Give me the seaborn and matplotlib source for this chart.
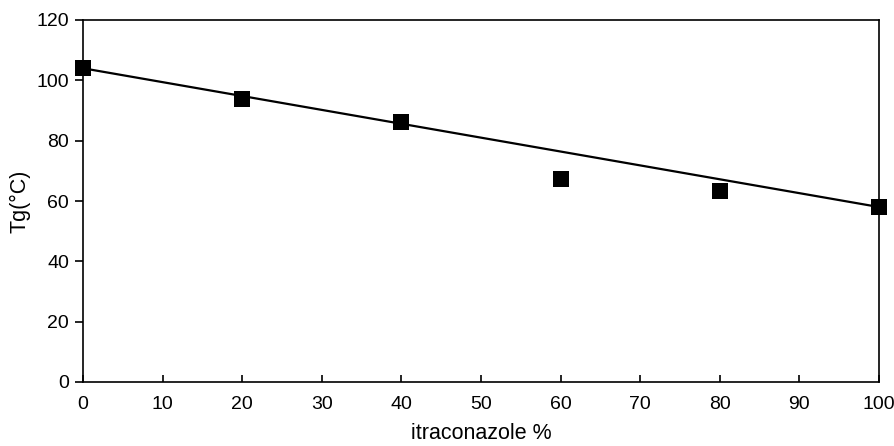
import matplotlib
matplotlib.use("Agg")
import matplotlib.pyplot as plt
import seaborn as sns
import pandas as pd

itraconazole_pct = [0, 20, 40, 60, 80, 100]
tg_values = [104.1, 93.9, 86.2, 67.4, 63.2, 58.1]
line_x = [0, 100]
line_y = [104.0, 58.0]

sns.set_theme(style="white")
plt.rcParams['font.family'] = ['Liberation Sans', 'DejaVu Sans']

fig = plt.figure(figsize=(8.94, 4.46), dpi=100)
ax = fig.add_axes([83/894, 1-382/446, (879-83)/894, (382-20)/446])

df_pts = pd.DataFrame({"x": itraconazole_pct, "y": tg_values})
df_line = pd.DataFrame({"x": line_x, "y": line_y})
sns.lineplot(data=df_line, x="x", y="y", ax=ax, color="black", linewidth=1.6)
sns.scatterplot(data=df_pts, x="x", y="y", ax=ax, marker="s", s=140, color="black",
                edgecolor="black", linewidth=0, zorder=5, clip_on=False)

ax.set_xlim(0, 100)
ax.set_ylim(0, 120)
ax.set_xticks(range(0, 101, 10))
ax.set_yticks(range(0, 121, 20))
for s in ax.spines.values():
    s.set_color("black")
    s.set_linewidth(1.2)
ax.tick_params(axis="x", bottom=True, direction="in", length=5, width=1.2, colors="black", labelsize=14, pad=10)
ax.tick_params(axis="y", left=True, direction="out", length=6, width=1.2, colors="black", labelsize=14, pad=4)
ax.set_xlabel("itraconazole %", fontsize=15.5, labelpad=7, color="black")
ax.set_ylabel("Tg(°C)", fontsize=15.5, color="black")
ax.yaxis.set_label_coords(-0.066, 0.5)

fig.savefig("out.png", dpi=100)
